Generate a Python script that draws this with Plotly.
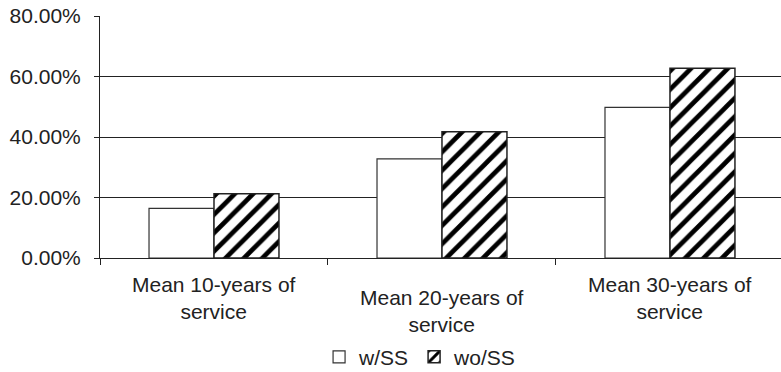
import plotly.graph_objects as go

categories = ["Mean 10-years of<br>service", "Mean 20-years of<br>service", "Mean 30-years of<br>service"]
series_names = ["w/SS", "wo/SS"]
w_ss = [0.164, 0.328, 0.498]
wo_ss = [0.212, 0.417, 0.627]
y_ticks = [0, 0.2, 0.4, 0.6, 0.8]

FONT = "Liberation Sans, Arial, sans-serif"
TXT = "#222222"
x_idx = list(range(len(categories)))

fig = go.Figure()
fig.add_trace(go.Bar(
    x=x_idx, y=w_ss, name=series_names[0],
    marker=dict(color="white", line=dict(color="#333333", width=1.2)),
))
fig.add_trace(go.Bar(
    x=x_idx, y=wo_ss, name=series_names[1],
    marker=dict(color="white", line=dict(color="#222222", width=1.5),
                pattern=dict(shape="/", fgcolor="black", bgcolor="white", fgopacity=1,
                             size=13, solidity=0.36, fillmode="replace")),
))

# staggered category labels (as in the original)
stagger = [-13, -26, -13]
for i, cat in enumerate(categories):
    fig.add_annotation(x=i, y=0, xref="x", yref="paper", yanchor="top", yshift=stagger[i],
                       text=cat, showarrow=False, font=dict(family=FONT, size=21, color=TXT),
                       align="center")

fig.update_layout(
    width=781, height=372,
    margin=dict(l=100, r=0, t=16, b=114, autoexpand=False),
    paper_bgcolor="white", plot_bgcolor="white",
    barmode="group", bargap=0.43, bargroupgap=0,
    font=dict(family=FONT, size=21, color=TXT),
    showlegend=True,
    legend=dict(orientation="h", x=0.47, xanchor="center", y=-0.41, yanchor="middle",
                font=dict(family=FONT, size=21, color=TXT), itemwidth=30,
                traceorder="normal", bgcolor="rgba(0,0,0,0)"),
    xaxis=dict(range=[-0.5, 2.487], tickmode="array", tickvals=[-0.5, 0.5, 1.5, 2.5],
               showticklabels=False, ticks="outside", ticklen=6, tickcolor=TXT,
               showline=True, linecolor=TXT, linewidth=1, showgrid=False, zeroline=False,
               automargin=False),
    yaxis=dict(range=[0, 0.8], tickvals=y_ticks, tickformat=".2%",
               ticks="outside", ticklen=5, tickcolor=TXT, ticklabelstandoff=9,
               showline=True, linecolor=TXT, linewidth=1,
               showgrid=True, gridcolor=TXT, gridwidth=1, zeroline=False,
               automargin=False,
               tickfont=dict(family=FONT, size=21, color=TXT)),
)

fig.write_html("out.html", config={"displayModeBar": False},
               post_script="document.body.style.margin='0px';document.body.style.overflow='hidden';")
